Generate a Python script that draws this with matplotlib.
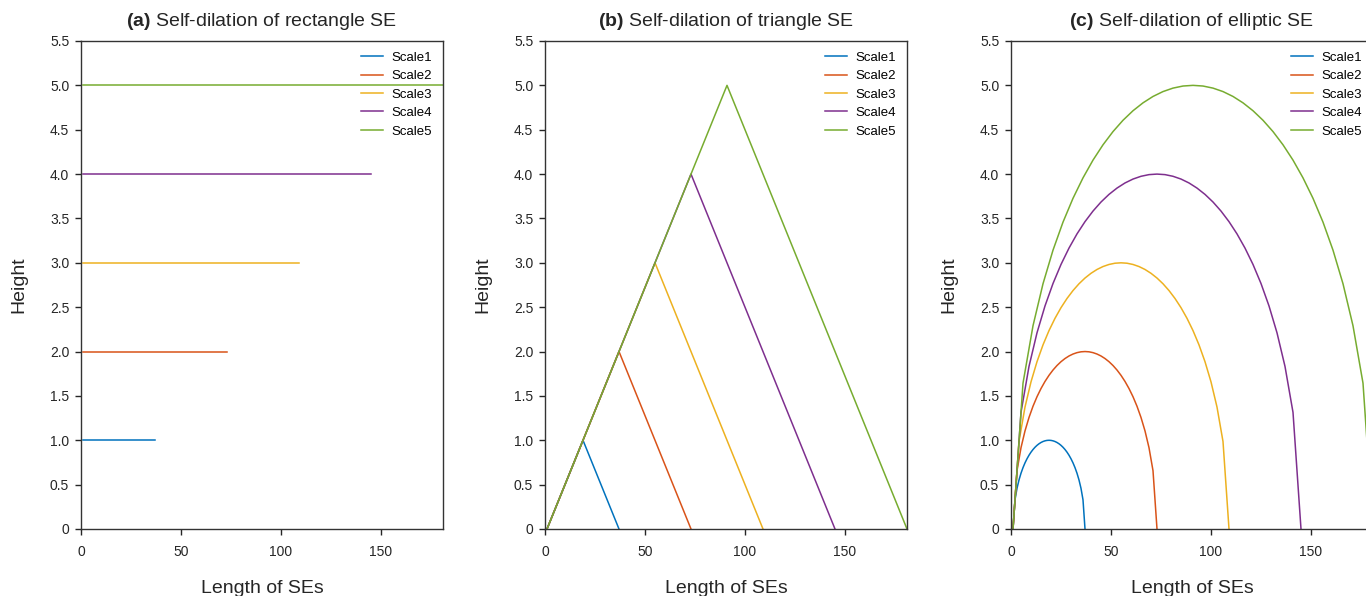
import numpy as np
import matplotlib
matplotlib.use("Agg")
import matplotlib.pyplot as plt
from matplotlib.ticker import FuncFormatter

plt.rcParams["font.family"] = ["Liberation Sans", "DejaVu Sans"]
plt.rcParams["mathtext.fontset"] = "custom"
plt.rcParams["mathtext.rm"] = "Liberation Sans"
plt.rcParams["mathtext.bf"] = "Liberation Sans:bold"

# structuring element scales
SCALE_NAMES = ["Scale1", "Scale2", "Scale3", "Scale4", "Scale5"]
SE_LENGTH = [37, 73, 109, 145, 181]
SE_HEIGHT = [1, 2, 3, 4, 5]
SE_START = 1
TRI_PEAK = [19, 37, 55, 73, 91]
# normalised half-ellipse profile, 37 samples from start to end of the SE
ELLIPSE_PROFILE = [
    0.0, 0.3287, 0.4581, 0.5528, 0.6285, 0.6917, 0.7454, 0.7915, 0.8315,
    0.8660, 0.8958, 0.9213, 0.9428, 0.9606, 0.9750, 0.9860, 0.9938, 0.9985,
    1.0,
    0.9985, 0.9938, 0.9860, 0.9750, 0.9606, 0.9428, 0.9213, 0.8958, 0.8660,
    0.8315, 0.7915, 0.7454, 0.6917, 0.6285, 0.5528, 0.4581, 0.3287, 0.0,
]

COLORS = ["#0072BD", "#D95319", "#EDB120", "#7E2F8E", "#77AC30"]
TITLES = ["rectangle", "triangle", "elliptic"]
PANEL_TAGS = ["(a)", "(b)", "(c)"]

TEXT_COLOR = "#262626"


def ytick_fmt(v, _pos):
  return "0" if abs(v) < 1e-9 else f"{v:.1f}"


def style_axes(ax, tag, shape):
  ax.set_xlim(0, 181)
  ax.set_ylim(0, 5.5)
  ax.set_xticks([0, 50, 100, 150])
  ax.set_yticks(np.arange(0, 5.51, 0.5))
  ax.yaxis.set_major_formatter(FuncFormatter(ytick_fmt))
  ax.tick_params(direction="out", length=4, width=1.0, labelsize=10,
                 colors=TEXT_COLOR)
  ax.tick_params(axis="x", pad=7.5)
  ax.tick_params(axis="y", pad=4.5)
  for sp in ax.spines.values():
    sp.set_color("#333333")
    sp.set_linewidth(1.0)
  ax.set_title(rf"$\bf{{{tag}}}$ Self-dilation of {shape} SE",
               fontsize=14, color=TEXT_COLOR, pad=11)
  ax.set_xlabel("Length of SEs", fontsize=14, color=TEXT_COLOR, labelpad=15)
  ax.set_ylabel("Height", fontsize=14, color=TEXT_COLOR, labelpad=16)
  ax.legend(loc="upper right", frameon=False, fontsize=9.5,
            handlelength=1.67, handletextpad=0.65, labelspacing=0.47,
            borderaxespad=0.5, borderpad=0.3)


fig = plt.figure(figsize=(13.66, 5.96), dpi=100)
W, H = 1366, 596
ax_w, ax_h = 362 / W, (529 - 41) / H
bottom = (H - 529) / H
axes = [fig.add_axes([left / W, bottom, ax_w, ax_h]) for left in (81, 545, 1011)]

ax_rect, ax_tri, ax_ell = axes

for name, length, height, peak, color in zip(SCALE_NAMES, SE_LENGTH, SE_HEIGHT,
                                             TRI_PEAK, COLORS):
  # rectangle: flat top at the scale height
  ax_rect.plot([SE_START, length], [height, height], color=color, lw=1.1,
               label=name)
  # triangle: apex in the middle of the SE
  ax_tri.plot([SE_START, peak, length], [0, height, 0], color=color, lw=1.1,
              label=name)
  # ellipse: sampled half-ellipse stretched to the SE length and height
  xs = np.linspace(SE_START, length, len(ELLIPSE_PROFILE))
  ys = height * np.array(ELLIPSE_PROFILE)
  ax_ell.plot(xs, ys, color=color, lw=1.1, label=name)

for ax, tag, shape in zip(axes, PANEL_TAGS, TITLES):
  style_axes(ax, tag, shape)

fig.savefig("out.png", dpi=100)
